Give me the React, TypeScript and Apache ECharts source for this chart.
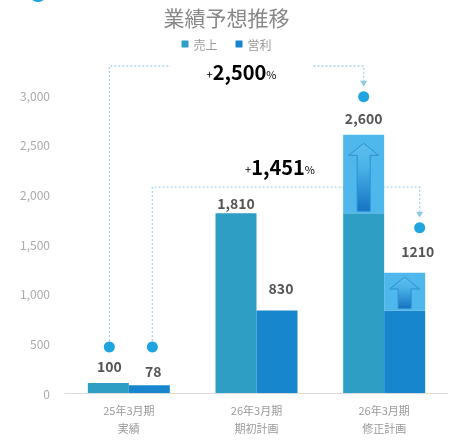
import React, { useEffect, useRef } from "react";
import * as echarts from "echarts";

// ---- data ----
const categories = ["25年3月期\n実績", "26年3月期\n期初計画", "26年3月期\n修正計画"];
const seriesNames = ["売上", "営利"];
const salesBase = [100, 1810, 1810];
const salesIncrease = [0, 0, 790];
const profitBase = [78, 830, 830];
const profitIncrease = [0, 0, 380];
const salesLabels = ["100", "1,810", "2,600"];
const profitLabels = ["78", "830", "1210"];
const yMin = 0;
const yMax = 3000;
const yInterval = 500;
const titleText = "業績予想推移";

// ---- layout / style ----
const TEAL = "#2e9ec5";
const BLUE = "#1886cd";
const LIGHT = "#4eb7eb";
const DOT = "#1ea5df";
const LINE = "#a6d6ec";
const BAR_W = 41;
const FONT = "'Noto Sans CJK JP', 'Noto Sans', sans-serif";
const salesOffsets = [[1, -7], [0, 0], [0, -7]];
const profitOffsets = [[4, -4], [4, -13], [13, -12]];

const total = (a: number[], b: number[], i: number) => a[i] + b[i];

function buildSeriesData(base: number[], inc: number[], labels: string[], offsets: number[][]) {
  const baseData = base.map((v, i) => ({
    value: v,
    label: inc[i] > 0 ? { show: false } : { show: true, formatter: labels[i], offset: offsets[i] },
  }));
  const incData = inc.map((v, i) =>
    v > 0
      ? { value: v, label: { show: true, formatter: labels[i], offset: offsets[i] } }
      : { value: "-", label: { show: false } }
  );
  return { baseData, incData };
}

export default function App() {
  const ref = useRef<HTMLDivElement>(null);
  useEffect(() => {
    if (!ref.current) return;
    const chart = echarts.init(ref.current, null, { renderer: "svg" });
    const sales = buildSeriesData(salesBase, salesIncrease, salesLabels, salesOffsets);
    const profit = buildSeriesData(profitBase, profitIncrease, profitLabels, profitOffsets);

    const barLabel = {
      position: "top",
      distance: 3,
      color: "#555",
      fontSize: 14,
      fontWeight: "bold",
      fontFamily: FONT,
    };

    const growth1 = Math.round(((total(salesBase, salesIncrease, 2) - salesBase[0]) / salesBase[0]) * 100);
    const growth2 = Math.round(((total(profitBase, profitIncrease, 2) - profitBase[0]) / profitBase[0]) * 100);
    const fmt = (n: number) => n.toLocaleString("en-US");

    const arrowData: number[][] = [];
    salesIncrease.forEach((v, i) => {
      if (v > 0) arrowData.push([i, salesBase[i], salesBase[i] + v, 0]);
    });
    profitIncrease.forEach((v, i) => {
      if (v > 0) arrowData.push([i, profitBase[i], profitBase[i] + v, 1]);
    });

    const richGrowth = {
      s: { fontSize: 11, color: "#777", fontFamily: FONT, padding: [6, 0, 0, 0] },
      b: { fontSize: 20, fontWeight: "bold", color: "#3a3a3a", fontFamily: FONT },
    };

    const connectors = (params: any, api: any) => {
      const last = categories.length - 1;
      const baseY = api.coord([0, 0])[1];
      const topY = api.coord([0, yMax])[1];
      const cx0 = api.coord([0, 0])[0];
      const cx2 = api.coord([last, 0])[0];
      const startY = baseY - 46;

      // connector 1: sales first -> sales last
      const sx0 = cx0 - BAR_W / 2 + 1;
      const sx2 = cx2 - BAR_W / 2;
      const y1 = topY - 29;
      const sTop = api.coord([last, total(salesBase, salesIncrease, last)])[1];
      const sEnd = sTop - 38;
      const t1x = (sx0 + sx2) / 2 + 5;

      // connector 2: profit first -> profit last
      const px0 = cx0 + BAR_W / 2 + 3;
      const px2 = cx2 + BAR_W / 2 + 15;
      const y2 = api.coord([last, salesBase[last]])[1] - 26;
      const pTop = api.coord([last, total(profitBase, profitIncrease, last)])[1];
      const pEnd = pTop - 45;
      const t2x = (px0 + px2) / 2 - 6;

      const dashed = { stroke: LINE, lineWidth: 1.3, lineDash: [2, 2], fill: null };
      const tri = (x: number, y: number) => ({
        type: "polygon",
        shape: { points: [[x - 3.5, y], [x + 3.5, y], [x, y + 6]] },
        style: { fill: "#8fcbe8" },
      });
      const dot = (x: number, y: number) => ({
        type: "circle",
        shape: { cx: x, cy: y, r: 5.5 },
        style: { fill: DOT },
      });

      return {
        type: "group",
        children: [
          { type: "polyline", shape: { points: [[sx0, startY - 6], [sx0, y1], [t1x - 71, y1]] }, style: dashed },
          { type: "polyline", shape: { points: [[t1x + 72, y1], [sx2, y1], [sx2, sEnd - 16]] }, style: dashed },
          tri(sx2, sEnd - 16),
          dot(sx0, startY),
          dot(sx2, sEnd),
          { type: "polyline", shape: { points: [[px0, startY - 6], [px0, y2], [px2, y2], [px2, pEnd - 16]] }, style: dashed },
          tri(px2, pEnd - 16),
          dot(px0, startY),
          dot(px2, pEnd),
          {
            type: "text",
            style: {
              x: t1x,
              y: y1 + 5,
              text: `{s|+}{b|${fmt(growth1)}}{s|%}`,
              rich: richGrowth,
              align: "center",
              verticalAlign: "middle",
            },
          },
          {
            type: "text",
            style: {
              x: t2x,
              y: y2 - 21,
              text: `{s|+}{b|${fmt(growth2)}}{s|%}`,
              rich: richGrowth,
              align: "center",
              verticalAlign: "middle",
            },
          },
        ],
      };
    };

    const arrows = (params: any, api: any) => {
      const cat = api.value(0);
      const lo = api.value(1);
      const hi = api.value(2);
      const side = api.value(3);
      const top = api.coord([cat, hi]);
      const bot = api.coord([cat, lo]);
      const cx = top[0] + (side === 0 ? -BAR_W / 2 : BAR_W / 2);
      const h = bot[1] - top[1];
      const ya = top[1] + h * 0.11;
      const yb = ya + 12;
      const yc = bot[1] - 2;
      const hw = 15;
      const sw = 6.5;
      return {
        type: "polygon",
        shape: {
          points: [
            [cx, ya],
            [cx + hw, yb],
            [cx + sw, yb],
            [cx + sw, yc],
            [cx - sw, yc],
            [cx - sw, yb],
            [cx - hw, yb],
          ],
        },
        style: {
          fill: new echarts.graphic.LinearGradient(0, 0, 0, 1, [
            { offset: 0, color: "#5dbfee" },
            { offset: 0.35, color: "#4ab2e8" },
            { offset: 1, color: "#1573c2" },
          ]),
          stroke: "#2e8fd2",
          lineWidth: 1,
        },
      };
    };

    chart.setOption({
      animation: false,
      title: {
        text: titleText,
        left: "center",
        top: 1,
        textStyle: { fontSize: 21, color: "#888", fontWeight: "normal", fontFamily: FONT },
      },
      legend: {
        data: seriesNames,
        top: 33,
        left: "center",
        icon: "rect",
        itemWidth: 7,
        itemHeight: 7,
        itemGap: 18,
        textStyle: { fontSize: 12, color: "#999", fontFamily: FONT },
      },
      graphic: [
        { type: "circle", shape: { cx: 38, cy: -7, r: 9 }, style: { fill: DOT } },
      ],
      grid: { left: 65, right: 5, top: 95, bottom: 53 },
      xAxis: {
        type: "category",
        data: categories,
        axisLine: { lineStyle: { color: "#dcdcdc" } },
        axisTick: { show: false },
        axisLabel: { color: "#999", fontSize: 11, lineHeight: 18, margin: 8, fontFamily: FONT },
      },
      yAxis: {
        type: "value",
        min: yMin,
        max: yMax,
        interval: yInterval,
        splitLine: { show: false },
        axisLine: { show: false },
        axisTick: { show: false },
        axisLabel: {
          color: "#aaa",
          fontSize: 12,
          margin: 15,
          fontFamily: FONT,
          formatter: (v: number) => v.toLocaleString("en-US"),
        },
      },
      series: [
        {
          type: "custom",
          name: "connectors",
          renderItem: connectors,
          data: [[0, 0]],
          z: 1,
          clip: false,
          silent: true,
        },
        {
          type: "bar",
          name: seriesNames[0],
          stack: "s",
          barWidth: BAR_W,
          barGap: "0%",
          itemStyle: { color: TEAL },
          label: barLabel,
          data: sales.baseData,
          z: 2,
        },
        {
          type: "bar",
          name: seriesNames[0] + "増",
          stack: "s",
          barWidth: BAR_W,
          barGap: "0%",
          itemStyle: { color: LIGHT },
          label: barLabel,
          data: sales.incData,
          z: 2,
        },
        {
          type: "bar",
          name: seriesNames[1],
          stack: "p",
          barWidth: BAR_W,
          barGap: "0%",
          itemStyle: { color: BLUE },
          label: barLabel,
          data: profit.baseData,
          z: 2,
        },
        {
          type: "bar",
          name: seriesNames[1] + "増",
          stack: "p",
          barWidth: BAR_W,
          barGap: "0%",
          itemStyle: { color: LIGHT },
          label: barLabel,
          data: profit.incData,
          z: 2,
        },
        {
          type: "custom",
          name: "arrows",
          renderItem: arrows,
          data: arrowData,
          encode: { x: 0, y: 2 },
          z: 3,
          clip: false,
          silent: true,
        },
      ],
    });
    return () => chart.dispose();
  }, []);
  return <div ref={ref} style={{ position: "fixed", left: 0, top: 0, width: 453, height: 446 }} />;
}
